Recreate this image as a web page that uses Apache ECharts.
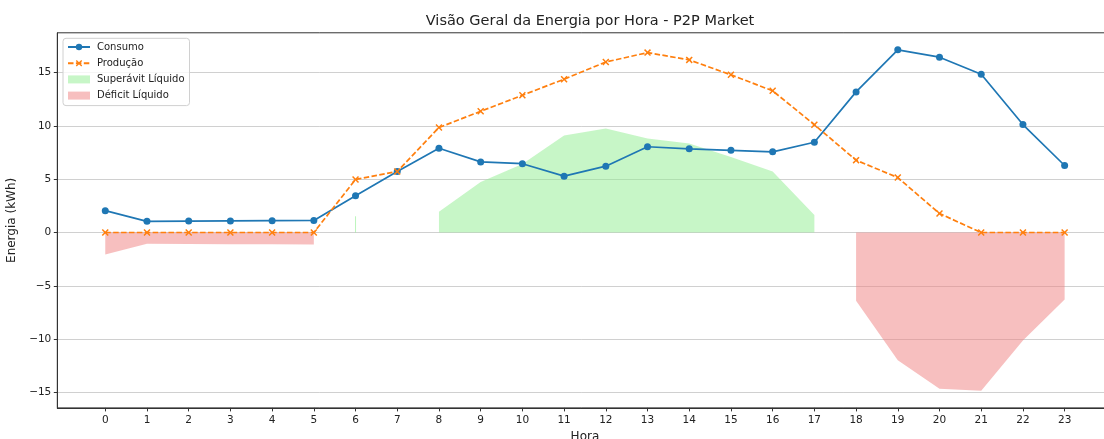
<!DOCTYPE html>
<html>
<head>
<meta charset="utf-8">
<script src="https://cdn.jsdelivr.net/npm/echarts@6/dist/echarts.min.js"></script>
<style>
  html, body { margin: 0; padding: 0; background: #fff; }
  #chart { width: 1104px; height: 439px; }
</style>
</head>
<body>
<div id="chart"></div>
<script>
// Hourly energy (kWh)
const hours = [0, 1, 2, 3, 4, 5, 6, 7, 8, 9, 10, 11, 12, 13, 14, 15, 16, 17, 18, 19, 20, 21, 22, 23];
const consumo = [2.05, 1.05, 1.07, 1.09, 1.11, 1.13, 3.45, 5.72, 7.90, 6.62, 6.45, 5.28, 6.22, 8.04, 7.84, 7.70, 7.56, 8.46, 13.18, 17.12, 16.43, 14.84, 10.12, 6.28];
const producao = [0, 0, 0, 0, 0, 0, 4.97, 5.72, 9.84, 11.36, 12.86, 14.37, 15.98, 16.86, 16.18, 14.78, 13.28, 10.10, 6.78, 5.15, 1.78, 0, 0, 0];
const yTicks = [-15, -10, -5, 0, 5, 10, 15];

const FONT = 'DejaVu Sans';

// Net balance per hour: positive = surplus, negative = deficit
const net = hours.map((h, i) => producao[i] - consumo[i]);
const surplus = hours.map((h, i) => [h, net[i] > 0 ? net[i] : null]);
const deficit = hours.map((h, i) => [h, net[i] < 0 ? net[i] : null]);

// Isolated surplus hours collapse to a zero-width sliver
const slivers = [];
hours.forEach((h, i) => {
  const pos = v => v !== undefined && v > 0;
  if (pos(net[i]) && !pos(net[i - 1]) && !pos(net[i + 1])) {
    slivers.push([h, 0], [h, net[i]], [h, null]);
  }
});

// Axis limits with 5% margins around the data
const allY = consumo.concat(producao, net);
const yLo = Math.min(...allY), yHi = Math.max(...allY);
const yPad = (yHi - yLo) * 0.05;
const xPad = (hours[hours.length - 1] - hours[0]) * 0.05;

const fmtMinus = v => (v < 0 ? '\u2212' + Math.abs(v) : String(v));
const xMarker = 'path://M1.5,0 L5,3.5 L8.5,0 L10,1.5 L6.5,5 L10,8.5 L8.5,10 L5,6.5 L1.5,10 L0,8.5 L3.5,5 L0,1.5 Z';

const GREEN = 'rgba(144,238,144,0.5)';
const RED = 'rgba(240,128,128,0.5)';

const chart = echarts.init(document.getElementById('chart'), null, { renderer: 'canvas' });
chart.setOption({
  animation: false,
  backgroundColor: '#fff',
  textStyle: { fontFamily: FONT },
  title: {
    text: 'Visão Geral da Energia por Hora - P2P Market',
    left: 585,
    textAlign: 'center',
    top: 9,
    textStyle: { fontFamily: FONT, fontSize: 14.5, fontWeight: 'normal', color: '#222' }
  },
  grid: {
    left: 57.3, top: 32.8, width: 1055.3, height: 375.1,
    outerBoundsMode: 'none',
    containLabel: false,
    show: true, borderColor: '#333', borderWidth: 1, backgroundColor: 'transparent'
  },
  legend: {
    orient: 'vertical',
    left: 63, top: 38.3,
    padding: [3.7, 5, 5, 4],
    itemWidth: 22, itemHeight: 8, itemGap: 6.2,
    backgroundColor: 'rgba(255,255,255,0.8)',
    borderColor: '#d0d0d0', borderWidth: 1, borderRadius: 3,
    textStyle: { fontFamily: FONT, fontSize: 10, color: '#222', padding: [0, 0, 0, 2] },
    data: [
      { name: 'Consumo' },
      { name: 'Produção' },
      { name: 'Superávit Líquido', icon: 'rect', itemStyle: { color: GREEN } },
      { name: 'Déficit Líquido', icon: 'rect', itemStyle: { color: RED } }
    ]
  },
  xAxis: {
    type: 'value',
    min: hours[0] - xPad,
    max: hours[hours.length - 1] + xPad,
    name: 'Hora',
    nameLocation: 'middle',
    nameGap: 23,
    nameTextStyle: { fontFamily: FONT, fontSize: 12, color: '#222' },
    axisLine: { show: true, onZero: false, lineStyle: { color: '#333', width: 1 } },
    axisTick: { show: true, customValues: hours, length: 3.5, lineStyle: { color: '#333' } },
    axisLabel: { customValues: hours, margin: 7, fontFamily: FONT, fontSize: 10.5, color: '#222' },
    splitLine: { show: false }
  },
  yAxis: {
    type: 'value',
    min: yLo - yPad,
    max: yHi + yPad,
    name: 'Energia (kWh)',
    nameLocation: 'middle',
    nameGap: 28,
    nameTextStyle: { fontFamily: FONT, fontSize: 12, color: '#222' },
    axisLine: { show: true, onZero: false, lineStyle: { color: '#333', width: 1 } },
    axisTick: { show: true, customValues: yTicks, length: 3.5, lineStyle: { color: '#333' } },
    axisLabel: { customValues: yTicks, margin: 6, fontFamily: FONT, fontSize: 10.5, color: '#222', formatter: fmtMinus },
    splitLine: { show: true, lineStyle: { color: '#c4c4c4', width: 0.8 } }
  },
  series: [
    {
      name: 'Superávit Líquido',
      type: 'line',
      data: surplus,
      symbol: 'none',
      connectNulls: false,
      lineStyle: { width: 0 },
      itemStyle: { color: GREEN },
      areaStyle: { color: GREEN, opacity: 1 },
      z: 1
    },
    {
      name: 'Déficit Líquido',
      type: 'line',
      data: deficit,
      symbol: 'none',
      connectNulls: false,
      lineStyle: { width: 0 },
      itemStyle: { color: RED },
      areaStyle: { color: RED, opacity: 1 },
      z: 1
    },
    {
      name: 'surplus-sliver',
      type: 'line',
      data: slivers,
      symbol: 'none',
      connectNulls: false,
      lineStyle: { width: 1, color: 'rgba(144,238,144,0.6)' },
      z: 1,
      silent: true
    },
    {
      name: 'Consumo',
      type: 'line',
      data: hours.map((h, i) => [h, consumo[i]]),
      symbol: 'circle',
      symbolSize: 7,
      showAllSymbol: true,
      itemStyle: { color: '#1f77b4' },
      lineStyle: { color: '#1f77b4', width: 1.7 },
      z: 3
    },
    {
      name: 'Produção',
      type: 'line',
      data: hours.map((h, i) => [h, producao[i]]),
      symbol: xMarker,
      symbolSize: 7,
      showAllSymbol: true,
      itemStyle: { color: '#ff7f0e' },
      lineStyle: { color: '#ff7f0e', width: 1.7, type: [5.5, 2.4] },
      z: 3
    }
  ]
});
</script>
</body>
</html>
